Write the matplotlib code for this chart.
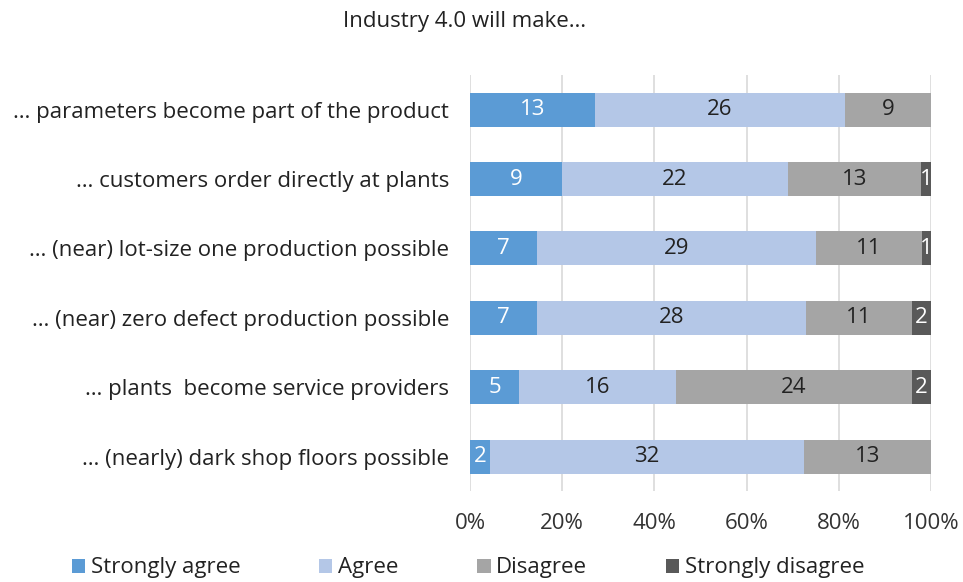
import matplotlib
matplotlib.use("Agg")
import matplotlib.pyplot as plt
from matplotlib.patches import Patch
import numpy as np

plt.rcParams['font.family'] = ['Open Sans', 'DejaVu Sans']

# Réponses à l'enquête (nombre de réponses par catégorie)
categories = [
    "… parameters become part of the product",
    "… customers order directly at plants",
    "… (near) lot-size one production possible",
    "… (near) zero defect production possible",
    "… plants  become service providers",
    "… (nearly) dark shop floors possible",
]
strongly_agree = [13, 9, 7, 7, 5, 2]
agree = [26, 22, 29, 28, 16, 32]
disagree = [9, 13, 11, 11, 24, 13]
strongly_disagree = [0, 1, 1, 2, 2, 0]

series_names = ["Strongly agree", "Agree", "Disagree", "Strongly disagree"]
colors = ["#5B9BD5", "#B4C7E7", "#A5A5A5", "#595959"]
text_colors = ["white", "#222222", "#222222", "white"]

data = np.array([strongly_agree, agree, disagree, strongly_disagree], dtype=float)
totals = data.sum(axis=0)
shares = data / totals

fig = plt.figure(figsize=(9.63, 5.82), dpi=100)
ax = fig.add_axes([0.488, 0.156, 0.479, 0.715])

y = np.arange(len(categories))
left = np.zeros(len(categories))
for i in range(len(series_names)):
    ax.barh(y, shares[i], left=left, height=0.49, color=colors[i], zorder=2)
    for j in range(len(categories)):
        if data[i, j] > 0:
            ax.text(left[j] + shares[i, j] / 2, y[j], str(int(data[i, j])),
                    ha='center', va='center', fontsize=16, color=text_colors[i], zorder=3)
    left += shares[i]

ax.set_xlim(0, 1)
ax.set_ylim(len(categories) - 0.5, -0.5)
ax.set_yticks(y)
ax.set_yticklabels(categories, fontsize=16, color="#222222")
ax.set_xticks(np.linspace(0, 1, 6))
ax.set_xticklabels(["0%", "20%", "40%", "60%", "80%", "100%"], fontsize=16, color="#333333")
ax.tick_params(length=0, pad=16, axis='x')
ax.tick_params(length=0, pad=15, axis='y')
ax.grid(axis='x', color="#D9D9D9", linewidth=1.2, zorder=0)
for s in ax.spines.values():
    s.set_visible(False)

fig.text(465 / 963, 1 - 22 / 582, "Industry 4.0 will make…", ha='center', va='center',
         fontsize=16, color="#222222")

handles = [Patch(facecolor=c, edgecolor='none') for c in colors]
fig.legend(handles, series_names, loc='center', bbox_to_anchor=(468 / 963, 1 - 568 / 582),
           ncol=4, frameon=False, fontsize=16, handlelength=0.6, handleheight=0.6,
           handletextpad=0.25, columnspacing=3.55, labelcolor="#222222")

plt.savefig("out.png", dpi=100)
